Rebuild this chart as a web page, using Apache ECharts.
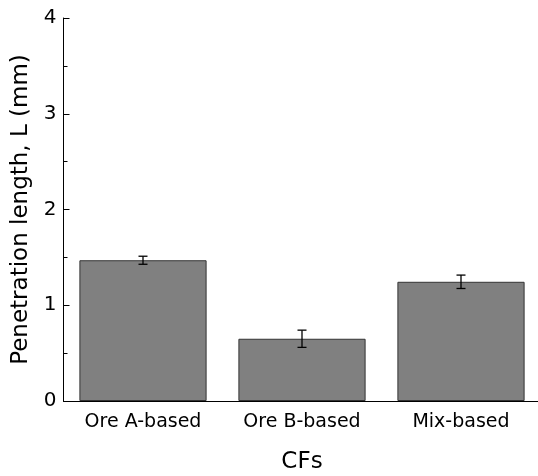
<!DOCTYPE html>
<html><head><meta charset="utf-8">
<script src="https://cdn.jsdelivr.net/npm/echarts@6/dist/echarts.min.js"></script>
<style>html,body{margin:0;padding:0;background:#fff}#c{width:538px;height:476px}</style>
</head><body><div id="c"></div>
<script>
const categories = ['Ore A-based', 'Ore B-based', 'Mix-based'];
const values = [1.47, 0.65, 1.245];
const errors = [0.042, 0.09, 0.07];
const yTicks = [0, 1, 2, 3, 4];

const FONT = 'DejaVu Sans';
const chart = echarts.init(document.getElementById('c'), null, {renderer: 'canvas'});
chart.setOption({
  animation: false,
  backgroundColor: '#fff',
  grid: {left: 63.5, top: 18, width: 477, height: 383, containLabel: false, outerBoundsMode: 'none'},
  xAxis: {
    type: 'category', data: categories,
    boundaryGap: true,
    axisLine: {lineStyle: {color: '#000', width: 1}},
    axisTick: {show: false},
    axisLabel: {color: '#000', fontFamily: FONT, fontSize: 19, margin: 12},
    name: 'CFs', nameLocation: 'middle', nameGap: 50,
    nameTextStyle: {color: '#000', fontFamily: FONT, fontSize: 23}
  },
  yAxis: {
    type: 'value', min: yTicks[0], max: yTicks[yTicks.length - 1], interval: 1,
    axisLine: {show: true, lineStyle: {color: '#000', width: 1}},
    axisTick: {show: true, inside: true, length: 6, lineStyle: {color: '#000'}},
    minorTick: {show: true, splitNumber: 2, length: 4, lineStyle: {color: '#000'}},
    splitLine: {show: false},
    axisLabel: {color: '#000', fontFamily: FONT, fontSize: 20, margin: 7},
    name: 'Penetration length, L (mm)', nameLocation: 'middle', nameGap: 26,
    nameTextStyle: {color: '#000', fontFamily: FONT, fontSize: 23}
  },
  series: [
    {
      type: 'bar', data: values, barWidth: '80%',
      itemStyle: {color: '#808080', borderColor: '#333', borderWidth: 1}
    },
    {
      type: 'custom',
      data: values.map((v, i) => [i, v - errors[i], v + errors[i]]),
      renderItem: function (params, api) {
        const lo = api.coord([api.value(0), api.value(1)]);
        const hi = api.coord([api.value(0), api.value(2)]);
        const x = lo[0], hw = 4.5;
        const st = {stroke: '#000', lineWidth: 1.3};
        return {type: 'group', children: [
          {type: 'line', shape: {x1: x, y1: lo[1], x2: x, y2: hi[1]}, style: st},
          {type: 'line', shape: {x1: x - hw, y1: lo[1], x2: x + hw, y2: lo[1]}, style: st},
          {type: 'line', shape: {x1: x - hw, y1: hi[1], x2: x + hw, y2: hi[1]}, style: st}
        ]};
      },
      z: 10
    }
  ]
});
</script></body></html>
